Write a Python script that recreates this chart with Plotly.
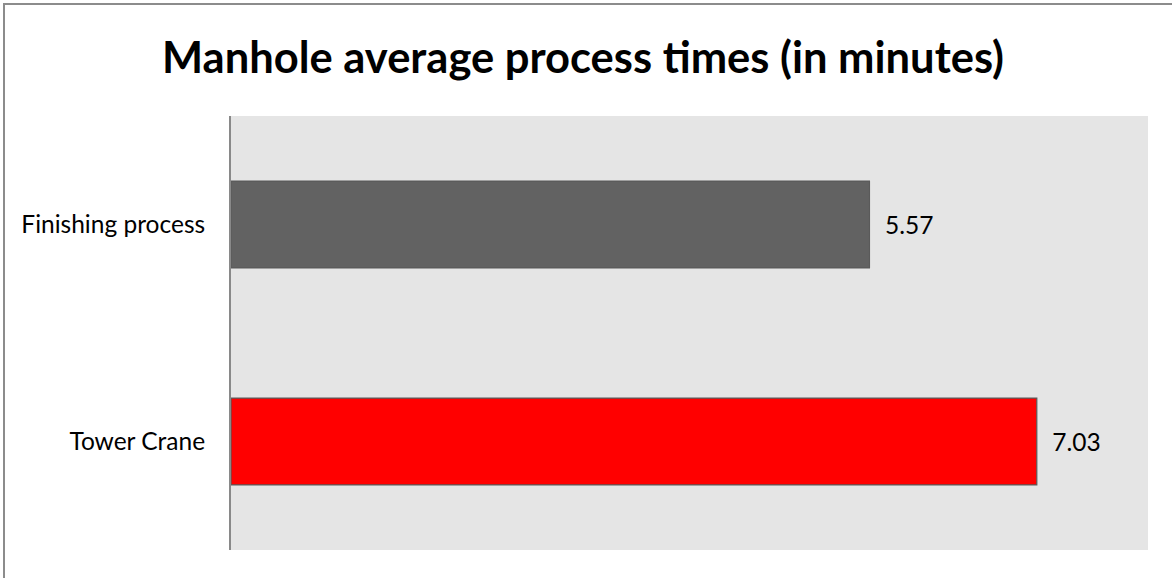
import plotly.graph_objects as go

categories = ["Tower Crane", "Finishing process"]
values = [7.03, 5.57]
bar_colors = ["#ff0000", "#626262"]
title_text = "Manhole average process times (in minutes)"

FONT = "Lato"
fig = go.Figure()
fig.add_trace(go.Bar(
    y=categories, x=values, orientation="h",
    marker=dict(color=bar_colors, line=dict(color="#5a5a5a", width=1.2)),
    width=0.4,
    text=["\u00a0\u00a0" + f"{v:.2f}" for v in values], textposition="outside",
    textfont=dict(size=24.5, color="#000000", family=FONT),
    cliponaxis=False,
))

fig.update_layout(
    width=1172, height=578,
    margin=dict(l=231, r=24, t=116, b=28),
    paper_bgcolor="#ffffff", plot_bgcolor="#e5e5e5",
    showlegend=False,
    title=dict(text=f"<b>{title_text}</b>", x=583/1172, xanchor="center", xref="container",
               y=1 - 58/578, yanchor="middle",
               font=dict(size=43.5, color="#000000", family=FONT)),
    font=dict(family=FONT, size=24.5, color="#000000"),
)
fig.update_xaxes(range=[0, 8], showticklabels=False, showgrid=False, zeroline=False,
                 showline=False, fixedrange=True)
fig.update_yaxes(showgrid=False, zeroline=False, showline=True, linecolor="#898989",
                 linewidth=2, ticks="", ticklabelstandoff=19,
                 tickfont=dict(size=24.5, family=FONT, color="#000000"))

# figure border (left and top edges visible; right/bottom fall outside the page)
fig.add_shape(type="rect", xref="paper", yref="paper",
              x0=(4 - 231) / 917, x1=(1180 - 231) / 917,
              y0=(550 - 590) / 434, y1=(550 - 4) / 434,
              line=dict(color="#8c8c8c", width=2), fillcolor="rgba(0,0,0,0)", layer="above")

fig.write_html("out.html")
